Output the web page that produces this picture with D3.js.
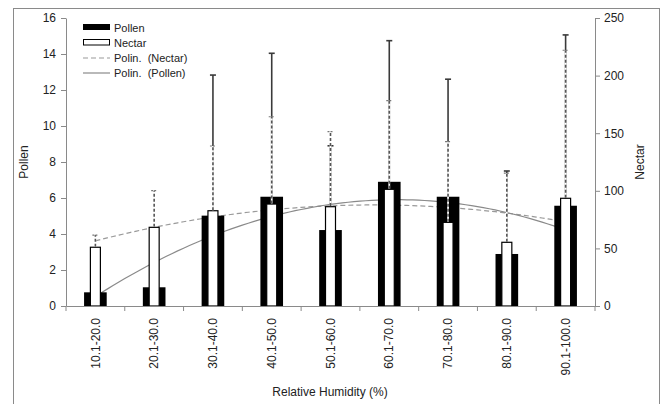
<!DOCTYPE html>
<html>
<head>
<meta charset="utf-8">
<script src="https://cdn.jsdelivr.net/npm/d3@7"></script>
<style>
  body { margin: 0; background: #fff; }
  text { font-family: "Liberation Sans", Arial, sans-serif; fill: #222; }
</style>
</head>
<body>
<svg id="chart" width="667" height="404"></svg>
<script>
// Relative humidity classes
const categories = ["10.1-20.0", "20.1-30.0", "30.1-40.0", "40.1-50.0", "50.1-60.0",
                    "60.1-70.0", "70.1-80.0", "80.1-90.0", "90.1-100.0"];
// Mean pollen loads (left axis) and upper error amounts
const pollen    = [0.76, 1.04, 5.02, 6.07, 4.22, 6.90, 6.07, 2.89, 5.57];
const pollenErr = [0, 0, 7.81, 7.97, 4.68, 7.84, 6.53, 4.61, 9.49];
// Mean nectar loads (right axis) and upper error amounts
const nectar    = [51.0, 68.3, 82.7, 88.5, 86.2, 101.3, 72.6, 55.3, 93.5];
const nectarErr = [10.6, 31.8, 56.2, 75.8, 65.1, 76.9, 70.0, 60.0, 128.5];
// Axis ticks
const pollenTicks = [0, 2, 4, 6, 8, 10, 12, 14, 16];
const nectarTicks = [0, 50, 100, 150, 200, 250];

const svg = d3.select("#chart");
const plot = { left: 66, right: 595, top: 18, bottom: 306 };

const x  = d3.scaleBand().domain(categories).range([plot.left, plot.right]).padding(0);
const yP = d3.scaleLinear().domain([0, 16]).range([plot.bottom, plot.top]);
const yN = d3.scaleLinear().domain([0, 250]).range([plot.bottom, plot.top]);
const cx = d => x(d) + x.bandwidth() / 2;

const pollenW = x.bandwidth() * 0.385;
const nectarW = x.bandwidth() * 0.17;

// Outer chart frame
svg.append("rect")
  .attr("x", 13.5).attr("y", 8.5).attr("width", 646).attr("height", 420)
  .attr("fill", "none").attr("stroke", "#8a8a8a");

// Second-order polynomial least-squares fit (x = 1..n)
function polyfit2(ys) {
  const xs = ys.map((_, i) => i + 1);
  const S = k => d3.sum(xs, v => Math.pow(v, k));
  const T = k => d3.sum(xs, (v, i) => Math.pow(v, k) * ys[i]);
  const A = [[S(0), S(1), S(2), T(0)], [S(1), S(2), S(3), T(1)], [S(2), S(3), S(4), T(2)]];
  for (let c = 0; c < 3; c++) {
    for (let r = c + 1; r < 3; r++) {
      const f = A[r][c] / A[c][c];
      for (let k = c; k < 4; k++) A[r][k] -= f * A[c][k];
    }
  }
  const coef = [0, 0, 0];
  for (let r = 2; r >= 0; r--) {
    let s = A[r][3];
    for (let k = r + 1; k < 3; k++) s -= A[r][k] * coef[k];
    coef[r] = s / A[r][r];
  }
  return t => coef[0] + coef[1] * t + coef[2] * t * t;
}

const xi = d3.scaleLinear().domain([1, categories.length])
  .range([cx(categories[0]), cx(categories[categories.length - 1])]);
const tSamples = d3.range(1, categories.length + 0.001, 0.1);

const fitN = polyfit2(nectar);
const fitP = polyfit2(pollen);

// Trend lines (behind the bars)
svg.append("path")
  .attr("d", d3.line().x(t => xi(t)).y(t => yN(fitN(t)))(tSamples))
  .attr("fill", "none").attr("stroke", "#9a9a9a").attr("stroke-width", 1.2)
  .attr("stroke-dasharray", "5,3");
svg.append("path")
  .attr("d", d3.line().x(t => xi(t)).y(t => yP(fitP(t)))(tSamples))
  .attr("fill", "none").attr("stroke", "#8a8a8a").attr("stroke-width", 1.2);

// Pollen bars
svg.append("g").selectAll("rect").data(categories).join("rect")
  .attr("x", d => cx(d) - pollenW / 2)
  .attr("y", (d, i) => yP(pollen[i]))
  .attr("width", pollenW)
  .attr("height", (d, i) => yP(0) - yP(pollen[i]))
  .attr("fill", "#000");

// Pollen error bars (solid)
const capW = 3;
const pErr = svg.append("g").attr("stroke", "#3a3a3a").attr("stroke-width", 1.6);
categories.forEach((d, i) => {
  if (!pollenErr[i]) return;
  const y0 = yP(pollen[i]), y1 = yP(pollen[i] + pollenErr[i]);
  pErr.append("line").attr("x1", cx(d)).attr("x2", cx(d)).attr("y1", y0).attr("y2", y1);
  pErr.append("line").attr("x1", cx(d) - capW).attr("x2", cx(d) + capW).attr("y1", y1).attr("y2", y1);
});

// Nectar bars
svg.append("g").selectAll("rect").data(categories).join("rect")
  .attr("x", d => cx(d) - nectarW / 2)
  .attr("y", (d, i) => yN(nectar[i]))
  .attr("width", nectarW)
  .attr("height", (d, i) => yN(0) - yN(nectar[i]))
  .attr("fill", "#fff").attr("stroke", "#000").attr("stroke-width", 1.2);

// Nectar error bars (dashed, drawn over a white underlay)
const nErr = svg.append("g");
categories.forEach((d, i) => {
  const y0 = yN(nectar[i]), y1 = yN(nectar[i] + nectarErr[i]);
  nErr.append("line").attr("x1", cx(d)).attr("x2", cx(d)).attr("y1", y0 - 0.6).attr("y2", y1)
    .attr("stroke", "#fff").attr("stroke-width", 1.8);
  nErr.append("line").attr("x1", cx(d)).attr("x2", cx(d)).attr("y1", y0 - 0.6).attr("y2", y1)
    .attr("stroke", "#555").attr("stroke-width", 1.6).attr("stroke-dasharray", "3,2");
  nErr.append("line").attr("x1", cx(d) - capW).attr("x2", cx(d) + capW).attr("y1", y1).attr("y2", y1)
    .attr("stroke", "#777").attr("stroke-width", 1.2).attr("stroke-dasharray", "2,1");
});

// Axes
function styleAxis(g) {
  g.select(".domain").attr("stroke", "#8a8a8a");
  g.selectAll(".tick line").attr("stroke", "#8a8a8a");
  g.selectAll(".tick text").attr("font-size", 12).attr("font-family", null).attr("fill", "#222");
}

svg.append("g").attr("transform", `translate(${plot.left},0)`)
  .call(d3.axisLeft(yP).tickValues(pollenTicks).tickSize(5).tickSizeOuter(0).tickPadding(5))
  .call(styleAxis);

svg.append("g").attr("transform", `translate(${plot.right},0)`)
  .call(d3.axisRight(yN).tickValues(nectarTicks).tickSize(5).tickSizeOuter(0).tickPadding(4))
  .call(styleAxis);

const xAxis = svg.append("g").attr("transform", `translate(0,${plot.bottom})`)
  .call(d3.axisBottom(x).tickSize(0).tickSizeOuter(0).tickPadding(0))
  .call(styleAxis);
xAxis.selectAll(".tick text")
  .attr("transform", "rotate(-90)")
  .attr("text-anchor", "end")
  .attr("x", -12).attr("y", 0).attr("dy", "0.35em");

// Category boundary ticks
svg.append("g").selectAll("line").data(d3.range(categories.length + 1)).join("line")
  .attr("x1", i => plot.left + i * x.step()).attr("x2", i => plot.left + i * x.step())
  .attr("y1", plot.bottom).attr("y2", plot.bottom + 5)
  .attr("stroke", "#8a8a8a");

// Axis titles
svg.append("text").attr("transform", `translate(28,162) rotate(-90)`)
  .attr("text-anchor", "middle").attr("font-size", 12).text("Pollen");
svg.append("text").attr("transform", `translate(644,162) rotate(-90)`)
  .attr("text-anchor", "middle").attr("font-size", 12).text("Nectar");
svg.append("text").attr("x", 330).attr("y", 396)
  .attr("text-anchor", "middle").attr("font-size", 12).text("Relative Humidity (%)");

// Legend
const lg = svg.append("g").attr("font-size", 11);
lg.append("rect").attr("x", 83).attr("y", 24).attr("width", 27).attr("height", 6).attr("fill", "#000");
lg.append("text").attr("x", 114).attr("y", 31.5).text("Pollen");
lg.append("rect").attr("x", 83.5).attr("y", 39.5).attr("width", 26).attr("height", 5.5)
  .attr("fill", "#fff").attr("stroke", "#000");
lg.append("text").attr("x", 114).attr("y", 46.5).text("Nectar");
lg.append("line").attr("x1", 83).attr("x2", 110).attr("y1", 58).attr("y2", 58)
  .attr("stroke", "#9a9a9a").attr("stroke-width", 1.2).attr("stroke-dasharray", "5,3");
lg.append("text").attr("x", 114).attr("y", 61.5).style("white-space", "pre").text("Polin.  (Nectar)");
lg.append("line").attr("x1", 83).attr("x2", 110).attr("y1", 73).attr("y2", 73)
  .attr("stroke", "#8a8a8a").attr("stroke-width", 1.2);
lg.append("text").attr("x", 114).attr("y", 76.5).style("white-space", "pre").text("Polin.  (Pollen)");
</script>
</body>
</html>
